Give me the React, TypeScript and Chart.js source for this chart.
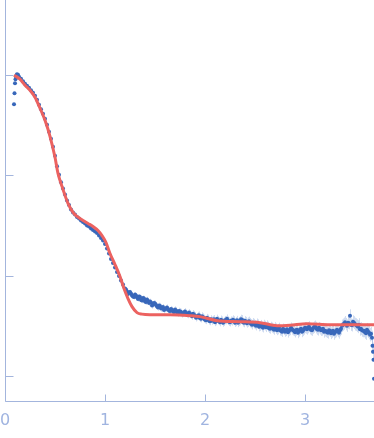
import React, { useEffect, useRef } from "react";
import { Chart, registerables } from "chart.js";

Chart.register(...registerables);

// Experimental data: q (nm^-1), log10 intensity (arb.), error (log units)
const qData = [
  0.09, 0.095, 0.1, 0.105, 0.11, 0.115, 0.12, 0.13,
  0.14, 0.16, 0.18, 0.2, 0.22, 0.24, 0.26, 0.28, 0.3, 0.32, 0.34, 0.36, 0.38, 0.4, 0.42, 0.44, 0.46, 0.48, 0.5, 0.52, 0.54, 0.56, 0.58, 0.6,
  0.62, 0.64, 0.66, 0.68, 0.7, 0.72, 0.74, 0.76, 0.78, 0.8, 0.82, 0.84, 0.86, 0.88, 0.9, 0.92, 0.94, 0.96, 0.98, 1.0,
  1.02, 1.04, 1.06, 1.08, 1.1, 1.12, 1.14, 1.16, 1.18, 1.2, 1.22, 1.24, 1.26, 1.28, 1.3, 1.32, 1.34, 1.36, 1.38, 1.4,
  1.42, 1.44, 1.46, 1.48, 1.5, 1.52, 1.54, 1.56, 1.58, 1.6, 1.62, 1.64, 1.66, 1.68, 1.7, 1.72, 1.74, 1.76, 1.78, 1.8,
  1.82, 1.84, 1.86, 1.88, 1.9, 1.92, 1.94, 1.96, 1.98, 2.0, 2.02, 2.04, 2.06, 2.08, 2.1, 2.12, 2.14, 2.16, 2.18, 2.2,
  2.22, 2.24, 2.26, 2.28, 2.3, 2.32, 2.34, 2.36, 2.38, 2.4, 2.42, 2.44, 2.46, 2.48, 2.5, 2.52, 2.54, 2.56, 2.58, 2.6,
  2.62, 2.64, 2.66, 2.68, 2.7, 2.72, 2.74, 2.76, 2.78, 2.8, 2.82, 2.84, 2.86, 2.88, 2.9, 2.92, 2.94, 2.96, 2.98, 3.0,
  3.02, 3.04, 3.06, 3.08, 3.1, 3.12, 3.14, 3.16, 3.18, 3.2, 3.22, 3.24, 3.26, 3.28, 3.3, 3.32, 3.34, 3.36, 3.38, 3.4,
  3.42, 3.44, 3.46, 3.48, 3.5, 3.52, 3.54, 3.56, 3.58, 3.6, 3.62, 3.64, 3.66,
  3.67, 3.675, 3.68, 3.685, 3.69,
];

const logIData = [
  -0.29, -0.18, -0.08, -0.04, -0.015, 0, 0.01, 0.005,
  -0.015, -0.035, -0.06, -0.085, -0.105, -0.125, -0.15, -0.175, -0.205, -0.245, -0.295, -0.34, -0.385, -0.435, -0.495, -0.565, -0.635, -0.715, -0.805, -0.91, -0.995, -1.07, -1.13, -1.19,
  -1.25, -1.295, -1.34, -1.37, -1.39, -1.415, -1.43, -1.45, -1.465, -1.48, -1.5, -1.51, -1.53, -1.545, -1.56, -1.575, -1.6, -1.625, -1.65, -1.685,
  -1.73, -1.78, -1.835, -1.875, -1.92, -1.965, -2.005, -2.05, -2.09, -2.13, -2.16, -2.17, -2.18, -2.21, -2.19, -2.22, -2.21, -2.245, -2.225, -2.26,
  -2.24, -2.275, -2.27, -2.29, -2.28, -2.31, -2.3, -2.33, -2.315, -2.335, -2.32, -2.35, -2.335, -2.36, -2.34, -2.37, -2.355, -2.365, -2.38, -2.36,
  -2.385, -2.37, -2.395, -2.38, -2.4, -2.41, -2.395, -2.43, -2.415, -2.44, -2.42, -2.45, -2.435, -2.44, -2.465, -2.43, -2.455, -2.44, -2.47, -2.445,
  -2.43, -2.46, -2.45, -2.44, -2.47, -2.445, -2.46, -2.435, -2.465, -2.45, -2.475, -2.455, -2.48, -2.47, -2.49, -2.475, -2.51, -2.49, -2.52, -2.5,
  -2.495, -2.525, -2.51, -2.53, -2.515, -2.545, -2.52, -2.55, -2.53, -2.56, -2.535, -2.55, -2.52, -2.545, -2.565, -2.54, -2.555, -2.53, -2.55, -2.52,
  -2.535, -2.51, -2.54, -2.525, -2.505, -2.535, -2.52, -2.545, -2.53, -2.55, -2.565, -2.545, -2.575, -2.55, -2.565, -2.54, -2.57, -2.53, -2.49, -2.465,
  -2.5, -2.475, -2.49, -2.46, -2.485, -2.5, -2.49, -2.53, -2.55, -2.565, -2.54, -2.57, -2.58,
  -2.62, -2.7, -2.76, -2.84, -3.03,
];

const errData = [
  0.01, 0.01, 0.008, 0.006, 0.005, 0.005, 0.004, 0.004,
  0.004, 0.004, 0.004, 0.004, 0.004, 0.004, 0.004, 0.004, 0.004, 0.004, 0.004, 0.004, 0.005, 0.005, 0.005, 0.005, 0.005, 0.005, 0.005, 0.005, 0.005, 0.005, 0.005, 0.005,
  0.006, 0.006, 0.006, 0.006, 0.007, 0.007, 0.007, 0.007, 0.008, 0.008, 0.008, 0.008, 0.009, 0.009, 0.009, 0.009, 0.01, 0.01, 0.01, 0.01,
  0.012, 0.012, 0.013, 0.013, 0.014, 0.015, 0.015, 0.016, 0.017, 0.018, 0.019, 0.02, 0.021, 0.022, 0.023, 0.024, 0.025, 0.025, 0.026, 0.027,
  0.028, 0.028, 0.029, 0.029, 0.03, 0.03, 0.03, 0.031, 0.031, 0.031, 0.032, 0.032, 0.032, 0.033, 0.033, 0.033, 0.034, 0.034, 0.034, 0.035,
  0.035, 0.035, 0.036, 0.036, 0.036, 0.037, 0.037, 0.037, 0.038, 0.038, 0.038, 0.039, 0.039, 0.039, 0.04, 0.04, 0.04, 0.041, 0.041, 0.041,
  0.042, 0.042, 0.042, 0.043, 0.043, 0.043, 0.044, 0.044, 0.044, 0.045, 0.045, 0.045, 0.046, 0.046, 0.046, 0.047, 0.047, 0.047, 0.048, 0.048,
  0.048, 0.049, 0.049, 0.049, 0.05, 0.05, 0.05, 0.051, 0.051, 0.051, 0.052, 0.052, 0.052, 0.053, 0.053, 0.053, 0.054, 0.054, 0.054, 0.055,
  0.055, 0.055, 0.056, 0.056, 0.056, 0.057, 0.057, 0.057, 0.058, 0.058, 0.058, 0.059, 0.059, 0.059, 0.06, 0.06, 0.06, 0.061, 0.061, 0.061,
  0.062, 0.062, 0.063, 0.063, 0.064, 0.064, 0.065, 0.065, 0.066, 0.066, 0.067, 0.067, 0.068,
  0.07, 0.08, 0.09, 0.1, 0.1,
];

// Interleaved frames of the same measurement (odd grid, high-q region)
const qDataB = [
  1.21, 1.23, 1.25, 1.27, 1.29, 1.31, 1.33, 1.35, 1.37, 1.39,
  1.41, 1.43, 1.45, 1.47, 1.49, 1.51, 1.53, 1.55, 1.57, 1.59,
  1.61, 1.63, 1.65, 1.67, 1.69, 1.71, 1.73, 1.75, 1.77, 1.79,
  1.81, 1.83, 1.85, 1.87, 1.89, 1.91, 1.93, 1.95, 1.97, 1.99,
  2.01, 2.03, 2.05, 2.07, 2.09, 2.11, 2.13, 2.15, 2.17, 2.19,
  2.21, 2.23, 2.25, 2.27, 2.29, 2.31, 2.33, 2.35, 2.37, 2.39,
  2.41, 2.43, 2.45, 2.47, 2.49, 2.51, 2.53, 2.55, 2.57, 2.59,
  2.61, 2.63, 2.65, 2.67, 2.69, 2.71, 2.73, 2.75, 2.77, 2.79,
  2.81, 2.83, 2.85, 2.87, 2.89, 2.91, 2.93, 2.95, 2.97, 2.99,
  3.01, 3.03, 3.05, 3.07, 3.09, 3.11, 3.13, 3.15, 3.17, 3.19,
  3.21, 3.23, 3.25, 3.27, 3.29, 3.31, 3.33, 3.35, 3.37, 3.39,
  3.41, 3.43, 3.45, 3.47, 3.49, 3.51, 3.53, 3.55, 3.57, 3.59,
  3.61, 3.63, 3.65,
];

const logIDataB = [
  -2.14, -2.185, -2.165, -2.2, -2.215, -2.2, -2.235, -2.215, -2.25, -2.23,
  -2.265, -2.255, -2.26, -2.3, -2.275, -2.295, -2.32, -2.305, -2.325, -2.345,
  -2.33, -2.34, -2.355, -2.345, -2.365, -2.35, -2.375, -2.36, -2.385, -2.37,
  -2.375, -2.39, -2.38, -2.405, -2.39, -2.42, -2.4, -2.425, -2.405, -2.43,
  -2.445, -2.43, -2.455, -2.45, -2.435, -2.455, -2.445, -2.465, -2.45, -2.46,
  -2.445, -2.45, -2.465, -2.455, -2.45, -2.46, -2.47, -2.45, -2.44, -2.47,
  -2.46, -2.465, -2.47, -2.49, -2.48, -2.5, -2.485, -2.505, -2.51, -2.49,
  -2.515, -2.51, -2.53, -2.52, -2.54, -2.53, -2.535, -2.545, -2.56, -2.54,
  -2.55, -2.565, -2.54, -2.535, -2.55, -2.545, -2.57, -2.54, -2.56, -2.535,
  -2.525, -2.52, -2.53, -2.545, -2.515, -2.52, -2.54, -2.53, -2.54, -2.56,
  -2.555, -2.57, -2.55, -2.56, -2.58, -2.555, -2.555, -2.545, -2.5, -2.48,
  -2.485, -2.47, -2.4, -2.495, -2.47, -2.49, -2.51, -2.535, -2.545, -2.55,
  -2.575, -2.555, -2.59,
];

const errDataB = [
  0.02, 0.021, 0.022, 0.023, 0.024, 0.024, 0.025, 0.026, 0.026, 0.027,
  0.028, 0.028, 0.029, 0.03, 0.03, 0.031, 0.031, 0.032, 0.032, 0.033,
  0.033, 0.033, 0.034, 0.034, 0.034, 0.035, 0.035, 0.035, 0.035, 0.035,
  0.035, 0.036, 0.036, 0.037, 0.037, 0.038, 0.038, 0.039, 0.039, 0.04,
  0.04, 0.04, 0.041, 0.041, 0.041, 0.041, 0.041, 0.042, 0.042, 0.042,
  0.042, 0.043, 0.043, 0.044, 0.044, 0.045, 0.045, 0.046, 0.046, 0.046,
  0.047, 0.047, 0.047, 0.048, 0.048, 0.048, 0.048, 0.048, 0.049, 0.049,
  0.049, 0.05, 0.05, 0.051, 0.051, 0.052, 0.052, 0.053, 0.053, 0.054,
  0.054, 0.054, 0.055, 0.055, 0.055, 0.055, 0.055, 0.055, 0.055, 0.055,
  0.056, 0.056, 0.057, 0.057, 0.058, 0.058, 0.059, 0.059, 0.06, 0.06,
  0.06, 0.06, 0.061, 0.061, 0.061, 0.061, 0.061, 0.061, 0.061, 0.061,
  0.062, 0.062, 0.063, 0.063, 0.064, 0.064, 0.065, 0.065, 0.066, 0.066,
  0.067, 0.067, 0.068,
];

// Model fit curve
const fitQ = [
  0.09, 0.15, 0.2, 0.25, 0.3, 0.35, 0.4, 0.45, 0.5, 0.53, 0.57, 0.63, 0.68, 0.72, 0.78, 0.83, 0.88, 0.93, 0.97, 1.01,
  1.05, 1.1, 1.15, 1.19, 1.23, 1.27, 1.32, 1.37, 1.45, 1.65, 1.85, 1.95, 2.12, 2.35, 2.55, 2.72, 2.85, 3.02, 3.25, 3.45, 3.69,
];
const fitLogI = [
  0, -0.04, -0.1, -0.15, -0.22, -0.33, -0.45, -0.61, -0.82, -0.98, -1.11, -1.28, -1.37, -1.41, -1.45, -1.48, -1.51, -1.55, -1.6, -1.67,
  -1.78, -1.89, -2.01, -2.13, -2.23, -2.31, -2.37, -2.385, -2.39, -2.39, -2.4, -2.41, -2.45, -2.46, -2.47, -2.5, -2.495, -2.48, -2.49, -2.49, -2.49,
];

const xTickValues = [0, 1, 2, 3];
const yTickValues = [0, -1, -2, -3];

const AXIS_COLOR = "rgb(163,181,221)";
const LABEL_COLOR = "rgb(160,180,224)";
const DOT_COLOR = "rgb(56,103,186)";
const ERR_COLOR = "rgba(120,155,215,0.35)";
const FIT_COLOR = "rgb(236,98,96)";

const allQ = [...qData, ...qDataB];
const allI = [...logIData, ...logIDataB];
const allErr = [...errData, ...errDataB];

const axesPlugin = {
  id: "customAxes",
  beforeDatasetsDraw(chart: any) {
    const { ctx, scales } = chart;
    const xs = scales.x;
    const ys = scales.y;
    ctx.save();
    ctx.strokeStyle = ERR_COLOR;
    ctx.lineWidth = 1;
    ctx.beginPath();
    for (let i = 0; i < allQ.length; i++) {
      const px = Math.round(xs.getPixelForValue(allQ[i])) + 0.5;
      const y1 = ys.getPixelForValue(allI[i] + allErr[i]);
      const y2 = ys.getPixelForValue(allI[i] - allErr[i]);
      ctx.moveTo(px, y1);
      ctx.lineTo(px, y2);
    }
    ctx.stroke();
    ctx.restore();
  },
  afterDraw(chart: any) {
    const { ctx, scales, chartArea } = chart;
    const xs = scales.x;
    const ys = scales.y;
    ctx.save();
    ctx.strokeStyle = AXIS_COLOR;
    ctx.lineWidth = 1;
    ctx.beginPath();
    const left = Math.round(chartArea.left) + 0.5;
    const bottom = Math.round(chartArea.bottom) + 0.5;
    ctx.moveTo(left, chartArea.top);
    ctx.lineTo(left, bottom);
    ctx.lineTo(chartArea.right, bottom);
    for (const v of xTickValues) {
      const px = Math.round(xs.getPixelForValue(v)) + 0.5;
      ctx.moveTo(px, bottom);
      ctx.lineTo(px, bottom - 7);
    }
    for (const v of yTickValues) {
      const py = Math.round(ys.getPixelForValue(v)) + 0.5;
      ctx.moveTo(left, py);
      ctx.lineTo(left + 8, py);
    }
    ctx.stroke();
    ctx.restore();
  },
};

export default function App() {
  const canvasRef = useRef<HTMLCanvasElement | null>(null);

  useEffect(() => {
    document.body.style.margin = "0";
    const canvas = canvasRef.current;
    if (!canvas) return;
    const points = allQ.map((q, i) => ({ x: q, y: allI[i] }));
    const fit = fitQ.map((q, i) => ({ x: q, y: fitLogI[i] }));
    const chart = new Chart(canvas, {
      type: "scatter",
      data: {
        datasets: [
          {
            label: "fit",
            data: fit,
            showLine: true,
            borderColor: FIT_COLOR,
            borderWidth: 3,
            pointRadius: 0,
            cubicInterpolationMode: "monotone",
            fill: false,
          } as any,
          {
            label: "data",
            data: points,
            backgroundColor: DOT_COLOR,
            borderWidth: 0,
            pointRadius: 2,
            showLine: false,
          } as any,
        ],
      },
      options: {
        animation: false,
        responsive: false,
        maintainAspectRatio: false,
        layout: { autoPadding: false, padding: { left: 5, top: 0, right: 0, bottom: -2 } },
        plugins: {
          legend: { display: false },
          tooltip: { enabled: false },
        },
        scales: {
          x: {
            type: "linear",
            min: 0,
            max: 3.69,
            grid: { display: false, drawTicks: false },
            border: { display: false },
            afterBuildTicks: (scale: any) => {
              scale.ticks = xTickValues.map((v) => ({ value: v }));
            },
            afterFit: (scale: any) => {
              scale.paddingLeft = 0;
              scale.paddingRight = 0;
            },
            ticks: {
              color: LABEL_COLOR,
              padding: 10,
              maxRotation: 0,
              autoSkip: false,
              font: { family: "DejaVu Sans", size: 16 },
              callback: (v: any) => String(v),
            },
          },
          y: {
            type: "linear",
            min: -3.25,
            max: 0.75,
            display: false,
            grid: { display: false },
          },
        },
      },
      plugins: [axesPlugin],
    });
    return () => chart.destroy();
  }, []);

  return (
    <div style={{ width: 374, height: 438 }}>
      <canvas ref={canvasRef} width={374} height={438} style={{ display: "block" }} />
    </div>
  );
}
